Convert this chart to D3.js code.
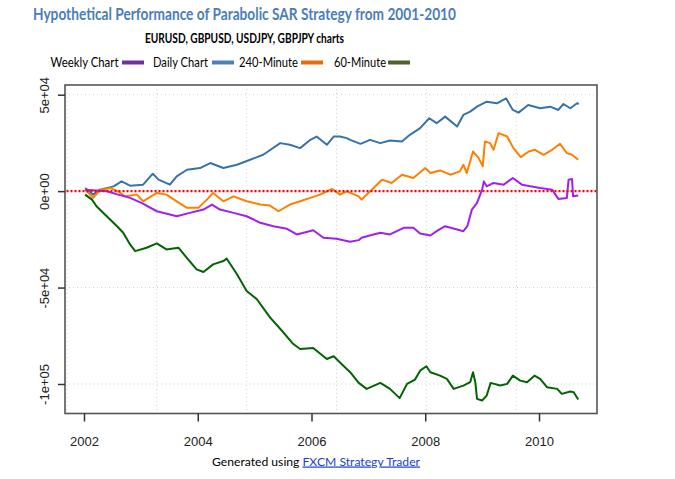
<!DOCTYPE html>
<html>
<head>
<meta charset="utf-8">
<script src="https://cdn.jsdelivr.net/npm/d3@7"></script>
<style>
  body { margin: 0; background: #fff; }
  svg { display: block; }
</style>
</head>
<body>
<div id="chart"></div>
<script>
// values: [year, profit]
var weekly = [
  [2002.02, 770], [2002.40, -100], [2002.60, -1810], [2002.81, -3510], [2003.01, -6090],
  [2003.28, -10430], [2003.51, -12140], [2003.63, -13020], [2003.86, -11260], [2004.10, -9560],
  [2004.25, -6970], [2004.39, -9560], [2004.63, -11260], [2004.86, -13020], [2005.10, -16420],
  [2005.33, -18180], [2005.57, -19520], [2005.74, -22470], [2006.03, -20250], [2006.21, -24170],
  [2006.44, -24690], [2006.68, -26240], [2006.83, -25410], [2006.88, -24170], [2007.09, -22470],
  [2007.21, -21590], [2007.38, -22470], [2007.62, -19010], [2007.79, -19010], [2007.91, -21950],
  [2008.09, -22980], [2008.20, -20760], [2008.35, -18180], [2008.56, -19890], [2008.67, -20760],
  [2008.74, -18180], [2008.82, -9560], [2008.91, -6090], [2009.00, 770], [2009.03, 5060],
  [2009.08, 2480], [2009.20, 4240], [2009.38, 3360], [2009.54, 6820], [2009.70, 3360],
  [2009.85, 2480], [2010.02, 1650], [2010.23, 770], [2010.34, -4030], [2010.49, -3510],
  [2010.52, 5940], [2010.58, 6300], [2010.60, -2690], [2010.69, -2320]
];

var daily = [
  [2002.02, 1650], [2002.16, -1810], [2002.28, 770], [2002.52, 2480], [2002.66, 5060],
  [2002.81, 2840], [2003.04, 3360], [2003.21, 9040], [2003.31, 5940], [2003.51, 3360],
  [2003.63, 7640], [2003.81, 11100], [2004.04, 11980], [2004.22, 14570], [2004.45, 11980],
  [2004.69, 13690], [2004.92, 16270], [2005.15, 18850], [2005.45, 24900], [2005.62, 24020],
  [2005.80, 22310], [2005.98, 26600], [2006.09, 28300], [2006.27, 24020], [2006.39, 28300],
  [2006.50, 28300], [2006.62, 27480], [2006.68, 26600], [2006.86, 24530], [2007.03, 26600],
  [2007.21, 24900], [2007.38, 26240], [2007.59, 25720], [2007.73, 29180], [2007.91, 32640],
  [2008.07, 37810], [2008.20, 35230], [2008.35, 38630], [2008.56, 33470], [2008.67, 39510],
  [2008.79, 41220], [2008.91, 43800], [2009.08, 46380], [2009.26, 45550], [2009.42, 48140],
  [2009.54, 42090], [2009.64, 40700], [2009.81, 44680], [2010.02, 42970], [2010.20, 43800],
  [2010.34, 42090], [2010.43, 45190], [2010.55, 42970], [2010.67, 45550], [2010.70, 45190]
];

var min240 = [
  [2002.02, 770], [2002.16, -3510], [2002.28, 410], [2002.46, 1650], [2002.60, -100],
  [2002.72, -2690], [2002.93, -1810], [2003.04, -5270], [2003.28, -930], [2003.45, -1810],
  [2003.63, -5270], [2003.81, -8680], [2004.01, -8680], [2004.16, -4390], [2004.27, -930],
  [2004.45, -5270], [2004.63, -2690], [2004.86, -5270], [2005.10, -6970], [2005.27, -7490],
  [2005.42, -10430], [2005.62, -6970], [2005.80, -5270], [2005.98, -3510], [2006.15, -1810],
  [2006.36, 1140], [2006.50, -1810], [2006.62, -100], [2006.83, -2690], [2006.88, -4390],
  [2007.09, 1650], [2007.24, 5940], [2007.41, 4240], [2007.59, 8520], [2007.79, 6820],
  [2008.00, 11980], [2008.09, 9400], [2008.26, 10740], [2008.44, 8520], [2008.61, 10230],
  [2008.67, 13690], [2008.73, 9400], [2008.84, 20560], [2008.94, 17150], [2009.01, 12810],
  [2009.05, 25720], [2009.14, 24900], [2009.20, 21430], [2009.29, 30060], [2009.44, 28300],
  [2009.55, 22310], [2009.68, 17660], [2009.82, 20560], [2009.93, 21430], [2010.08, 18850],
  [2010.23, 21430], [2010.37, 24530], [2010.49, 19730], [2010.58, 18850], [2010.69, 16270]
];

var min60 = [
  [2002.02, -1810], [2002.14, -4390], [2002.22, -7850], [2002.40, -13020], [2002.58, -18180],
  [2002.69, -21590], [2002.81, -27630], [2002.90, -31090], [2003.10, -29340], [2003.28, -27120],
  [2003.45, -30220], [2003.66, -29340], [2003.83, -35380], [2003.98, -40550], [2004.10, -41940],
  [2004.27, -37960], [2004.45, -36260], [2004.51, -35020], [2004.69, -43130], [2004.86, -51750],
  [2005.04, -56040], [2005.27, -65490], [2005.48, -72410], [2005.68, -79280], [2005.80, -81860],
  [2006.03, -81350], [2006.27, -87030], [2006.39, -85640], [2006.56, -90490], [2006.68, -93900],
  [2006.83, -99430], [2006.97, -102530], [2007.21, -99430], [2007.38, -102530], [2007.55, -107330],
  [2007.68, -99940], [2007.82, -97720], [2007.91, -93070], [2008.02, -90800], [2008.09, -93900],
  [2008.26, -95660], [2008.38, -97360], [2008.50, -102530], [2008.67, -100820], [2008.79, -99070],
  [2008.84, -93900], [2008.88, -99070], [2008.91, -107690], [2009.00, -108570], [2009.08, -105990],
  [2009.15, -99430], [2009.32, -100820], [2009.44, -99940], [2009.54, -95660], [2009.67, -98240],
  [2009.79, -99070], [2009.92, -95660], [2010.02, -97360], [2010.14, -101650], [2010.32, -102530],
  [2010.40, -105110], [2010.55, -103920], [2010.61, -104230], [2010.69, -108050]
];

var xTicks = [2002, 2004, 2006, 2008, 2010];
var yTicks = [50000, 0, -50000, -100000];
var yTickLabels = ['5e+04', '0e+00', '-5e+04', '-1e+05'];
var gridYears = [2001.70, 2003.28, 2004.86, 2006.44, 2008.02, 2009.60];

var legendNames = ['Weekly Chart', 'Daily Chart', '240-Minute', '60-Minute'];
var legendColors = ['#7030a0', '#4f81bd', '#e46c0a', '#4f6228'];

var width = 675, height = 479;
var box = {left: 65, right: 597, top: 85, bottom: 413.5};

var svg = d3.select('#chart').append('svg')
  .attr('width', width)
  .attr('height', height);

var x = d3.scaleLinear().domain([2002, 2010]).range([84, 539]);
var y = d3.scaleLinear().domain([-100000, 50000]).range([384, 94.7]);

// titles
svg.append('text')
  .attr('x', 244.5).attr('y', 20)
  .attr('text-anchor', 'middle')
  .attr('textLength', 423).attr('lengthAdjust', 'spacingAndGlyphs')
  .style('font-family', 'Lato, "Open Sans", sans-serif')
  .style('font-size', '17px').style('font-weight', 'bold')
  .attr('fill', '#4a7ebb')
  .text('Hypothetical Performance of Parabolic SAR Strategy from 2001-2010');

svg.append('text')
  .attr('x', 244.5).attr('y', 42.5)
  .attr('text-anchor', 'middle')
  .attr('textLength', 199).attr('lengthAdjust', 'spacingAndGlyphs')
  .style('font-family', 'Lato, "Open Sans", sans-serif')
  .style('font-size', '12.5px').style('font-weight', 'bold')
  .attr('fill', '#000')
  .text('EURUSD, GBPUSD, USDJPY, GBPJPY charts');

// legend: text then colour swatch
var legendX = [50.5, 153, 239, 334];
var legendW = [68, 55, 59, 52];
var swatchX = [122, 212, 301, 388];
var lg = svg.append('g');
legendNames.forEach(function(name, i){
  lg.append('text')
    .attr('x', legendX[i]).attr('y', 66.5)
    .attr('textLength', legendW[i]).attr('lengthAdjust', 'spacingAndGlyphs')
    .style('font-family', 'Lato, "Open Sans", sans-serif')
    .style('font-size', '13.5px')
    .attr('fill', '#000')
    .text(name);
  lg.append('rect')
    .attr('x', swatchX[i]).attr('y', 60.5)
    .attr('width', 22).attr('height', 4)
    .attr('fill', legendColors[i]);
});

// grid
var grid = svg.append('g')
  .attr('stroke', '#d0d0d0')
  .attr('stroke-width', 1)
  .attr('stroke-dasharray', '1,3');
grid.selectAll('line.v').data(gridYears)
  .enter().append('line')
  .attr('x1', function(d){ return x(d); })
  .attr('x2', function(d){ return x(d); })
  .attr('y1', box.top).attr('y2', box.bottom);
grid.selectAll('line.h').data(yTicks)
  .enter().append('line')
  .attr('x1', box.left).attr('x2', box.right)
  .attr('y1', function(d){ return y(d); })
  .attr('y2', function(d){ return y(d); });

// series
var line = d3.line()
  .x(function(d){ return x(d[0]); })
  .y(function(d){ return y(d[1]); });

var series = [
  {data: daily, color: '#3673ad'},
  {data: min240, color: '#ff8000'},
  {data: weekly, color: '#a020f0'},
  {data: min60, color: '#006400'}
];
svg.selectAll('path.series').data(series)
  .enter().append('path')
  .attr('class', 'series')
  .attr('d', function(d){ return line(d.data); })
  .attr('fill', 'none')
  .attr('stroke', function(d){ return d.color; })
  .attr('stroke-width', 2)
  .attr('stroke-linejoin', 'round');

// zero line
svg.append('line')
  .attr('x1', 66.5).attr('x2', box.right)
  .attr('y1', y(0)).attr('y2', y(0))
  .attr('stroke', '#ff0000')
  .attr('stroke-width', 2.2)
  .attr('stroke-dasharray', '2,2');

// box
svg.append('rect')
  .attr('x', box.left).attr('y', box.top)
  .attr('width', box.right - box.left).attr('height', box.bottom - box.top)
  .attr('fill', 'none')
  .attr('stroke', '#555')
  .attr('stroke-width', 1.6);

// axes
var xAxis = d3.axisBottom(x).tickValues(xTicks).tickSize(8).tickFormat(d3.format('d'));
var gx = svg.append('g').attr('transform', 'translate(0,' + box.bottom + ')').call(xAxis);
gx.select('.domain').remove();
gx.selectAll('line').attr('stroke', '#333').attr('stroke-width', 1.5);
gx.selectAll('text')
  .attr('y', 23)
  .attr('fill', '#222')
  .style('font-family', '"Liberation Sans", Arial, sans-serif')
  .style('font-size', '13px');

var yAxis = d3.axisLeft(y).tickValues(yTicks).tickSize(7)
  .tickFormat(function(d, i){ return yTickLabels[i]; });
var gy = svg.append('g').attr('transform', 'translate(' + box.left + ',0)').call(yAxis);
gy.select('.domain').remove();
gy.selectAll('line').attr('stroke', '#333').attr('stroke-width', 1.5);
gy.selectAll('text')
  .attr('x', 0).attr('dy', null)
  .attr('text-anchor', 'middle')
  .attr('dominant-baseline', 'central')
  .attr('transform', 'translate(-21,0) rotate(-90)')
  .attr('fill', '#222')
  .style('font-family', '"Liberation Sans", Arial, sans-serif')
  .style('font-size', '13px');

// footer
var foot = svg.append('text')
  .attr('x', 212).attr('y', 465.5)
  .attr('textLength', 208).attr('lengthAdjust', 'spacingAndGlyphs')
  .style('font-family', 'Lato, "Open Sans", sans-serif')
  .style('font-size', '12px');
foot.append('tspan').attr('fill', '#000').text('Generated using ');
foot.append('tspan').attr('fill', '#1a3fd0')
  .style('text-decoration', 'underline')
  .text('FXCM Strategy Trader');
</script>
</body>
</html>
